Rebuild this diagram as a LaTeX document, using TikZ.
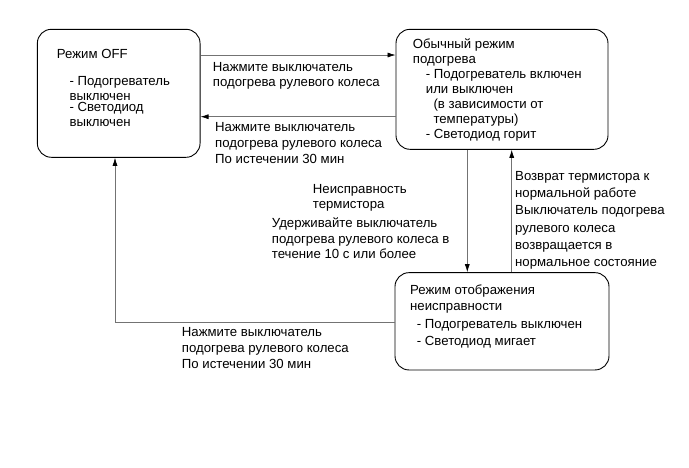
\documentclass[tikz,border=0pt]{standalone}
\usepackage{fontspec}
\setmainfont{Liberation Sans}
\usetikzlibrary{arrows.meta}
\newcommand\mystrut{\rule{0pt}{10pt}}
\begin{document}
\begin{tikzpicture}[x=1pt,y=-1pt,
  statebox/.style={draw=black,line width=0.9pt,rounded corners=14pt,minimum width=#1},
  lbl/.style={font=\fontsize{13.2}{#1}\selectfont,align=left,anchor=north west,inner sep=0pt,text=black},
  conn/.style={draw=black!55,line width=0.7pt},
  arr/.style={conn,-{Latex[length=8pt,width=5pt,color=black]}}]
\useasboundingbox (0,0) rectangle (689,467);
% boxes
\node[statebox=162.7pt,minimum height=128pt] (off) at (118.7,93.3) {};
\node[statebox=212pt,minimum height=120pt] (normal) at (502,89.3) {};
\node[statebox=214pt,minimum height=97.3pt] (fault) at (502,321.3) {};
% box texts
\node[lbl=15] (t1) at (56.7,48.3) {\mystrut Режим OFF};
\node[lbl=15] (t2) at (69.3,75) {\mystrut - Подогреватель\\выключен};
\node[lbl=14.3] (t3) at (69.3,101.7) {\mystrut - Светодиод\\выключен};
\node[lbl=15] (t4) at (412.7,38.3) {\mystrut Обычный режим\\подогрева\\
  \hspace*{13pt}- Подогреватель включен\\\hspace*{13pt}или выключен\\
  \hspace*{20.6pt}(в зависимости от\\\hspace*{20.6pt}температуры)\\
  \hspace*{13pt}- Светодиод горит};
\node[lbl=15.7] (t5) at (410,284.3) {\mystrut Режим отображения\\неисправности};
\node[lbl=16.7] (t6) at (416.7,318.3) {\mystrut - Подогреватель выключен\\- Светодиод мигает};
% connector coordinates
\coordinate (c1) at (115,322);
% connectors
\draw[arr] (off.east |- 0,55) -- (normal.west |- 0,55);
\draw[arr] (normal.west |- 0,116.7) -- (off.east |- 0,116.7);
\draw[arr] (normal.south -| 467.3,0) -- (fault.north -| 467.3,0);
\draw[arr] (fault.north -| 511.7,0) -- (normal.south -| 511.7,0);
\draw[arr] (fault.west |- c1) -- (c1) -- (off.south -| c1);
% connector labels
\node[lbl=15.7] (l1) at (212.7,61) {\mystrut Нажмите выключатель\\подогрева рулевого колеса};
\node[lbl=15.8] (l2) at (215,121.7) {\mystrut Нажмите выключатель\\подогрева рулевого колеса\\По истечении 30 мин};
\node[lbl=15] (l3) at (312.7,183.3) {\mystrut Неисправность\\термистора};
\node[lbl=15.5] (l4) at (271.7,217.3) {\mystrut Удерживайте выключатель\\подогрева рулевого колеса в\\течение 10 с или более};
\node[lbl=17.3] (l5) at (515,170) {\mystrut Возврат термистора к\\нормальной работе\\Выключатель подогрева\\рулевого колеса\\возвращается в\\нормальное состояние};
\node[lbl=15.8] (l6) at (181.7,326.7) {\mystrut Нажмите выключатель\\подогрева рулевого колеса\\По истечении 30 мин};
\end{tikzpicture}
\end{document}
